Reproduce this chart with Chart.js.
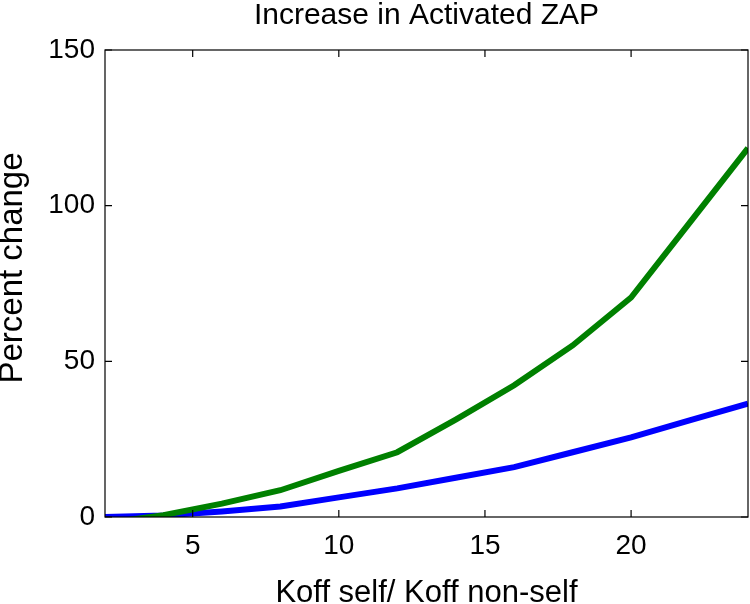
<!DOCTYPE html>
<html>
<head>
<meta charset="utf-8">
<script src="https://cdn.jsdelivr.net/npm/chart.js@4.4.0/dist/chart.umd.min.js"></script>
<style>
  html, body { margin: 0; padding: 0; background: #fff; }
  #wrap { width: 750px; height: 604px; }
</style>
</head>
<body>
<div id="wrap"><canvas id="chart_zap"></canvas></div>
<script>
// データ
const koffRatio = [2, 4, 6, 8, 10, 12, 14, 16, 18, 20, 22, 24];
const greenSeries = [-2, 0.6, 4.3, 8.6, 14.8, 20.8, 31.3, 42.3, 55.1, 70.5, 94.5, 118.5];
const blueSeries = [0, 0.5, 1.8, 3.4, 6.3, 9.2, 12.6, 16.0, 20.8, 25.6, 31.0, 36.4];
const xTicks = [5, 10, 15, 20];
const yTicks = [0, 50, 100, 150];
const chartTitle = 'Increase in Activated ZAP';
const yTitle = 'Percent change';

const fontName = '"Liberation Sans", Arial, Helvetica, sans-serif';

// 内向きの目盛りと枠線、タイトル
const boxPlugin = {
    id: 'boxPlugin',
    afterDraw(chart) {
        const ctx = chart.ctx;
        const a = chart.chartArea;
        const xs = chart.scales.x;
        const ys = chart.scales.y;
        const len = 7;
        ctx.save();
        ctx.strokeStyle = '#000';
        ctx.lineWidth = 1.2;
        ctx.strokeRect(a.left, a.top, a.right - a.left, a.bottom - a.top);
        ctx.beginPath();
        xTicks.forEach(v => {
            const px = xs.getPixelForValue(v);
            ctx.moveTo(px, a.bottom); ctx.lineTo(px, a.bottom - len);
            ctx.moveTo(px, a.top); ctx.lineTo(px, a.top + len);
        });
        yTicks.forEach(v => {
            const py = ys.getPixelForValue(v);
            ctx.moveTo(a.left, py); ctx.lineTo(a.left + len, py);
            ctx.moveTo(a.right, py); ctx.lineTo(a.right - len, py);
        });
        ctx.stroke();

        // グラフタイトル（プロット領域の中央）
        ctx.fillStyle = '#000';
        ctx.font = '30px ' + fontName;
        ctx.textAlign = 'center';
        ctx.textBaseline = 'alphabetic';
        ctx.fillText(chartTitle, (a.left + a.right) / 2, 24);

        // 縦軸タイトル
        ctx.translate(13, 268);
        ctx.rotate(-Math.PI / 2);
        ctx.font = '33px ' + fontName;
        ctx.textBaseline = 'middle';
        ctx.fillText(yTitle, 0, 0);
        ctx.restore();
    }
};

let chartArea = document.getElementById('chart_zap');

let draw = {
    datasets: [{
        label: 'green',
        data: koffRatio.map((x, i) => ({ x: x, y: greenSeries[i] })),
        borderColor: '#008000',
        borderWidth: 6,
        pointRadius: 0,
        tension: 0
    }, {
        label: 'blue',
        data: koffRatio.map((x, i) => ({ x: x, y: blueSeries[i] })),
        borderColor: '#0000ff',
        borderWidth: 6,
        pointRadius: 0,
        tension: 0
    }]
};

// 表示処理
var myChart = new Chart(chartArea, {
    type: 'line',
    data: draw,
    plugins: [boxPlugin],
    options: {
        responsive: true,
        maintainAspectRatio: false,
        animation: false,
        layout: { padding: { top: 50, right: 2, left: 0, bottom: 0 } },
        plugins: {
            legend: { display: false },
            tooltip: { enabled: false },
            title: { display: false }
        },
        scales: {
            x: {
                type: 'linear',
                min: 2,
                max: 24,
                afterBuildTicks: s => { s.ticks = xTicks.map(v => ({ value: v })); },
                afterFit: s => { s.height = 87; },
                grid: { display: false, drawTicks: false },
                border: { display: false },
                ticks: {
                    color: '#000',
                    padding: 12,
                    font: { family: fontName, size: 28 }
                },
                title: {
                    display: true,
                    text: 'Koff self/ Koff non-self',
                    color: '#000',
                    font: { family: fontName, size: 31, lineHeight: 0.65 },
                    padding: { top: 0, bottom: 0 }
                }
            },
            y: {
                type: 'linear',
                min: 0,
                max: 150,
                afterBuildTicks: s => { s.ticks = yTicks.map(v => ({ value: v })); },
                afterFit: s => { s.width = 105; },
                grid: { display: false, drawTicks: false },
                border: { display: false },
                ticks: {
                    color: '#000',
                    padding: 10,
                    font: { family: fontName, size: 28 }
                },
                title: { display: false }
            }
        }
    }
});
</script>
</body>
</html>
